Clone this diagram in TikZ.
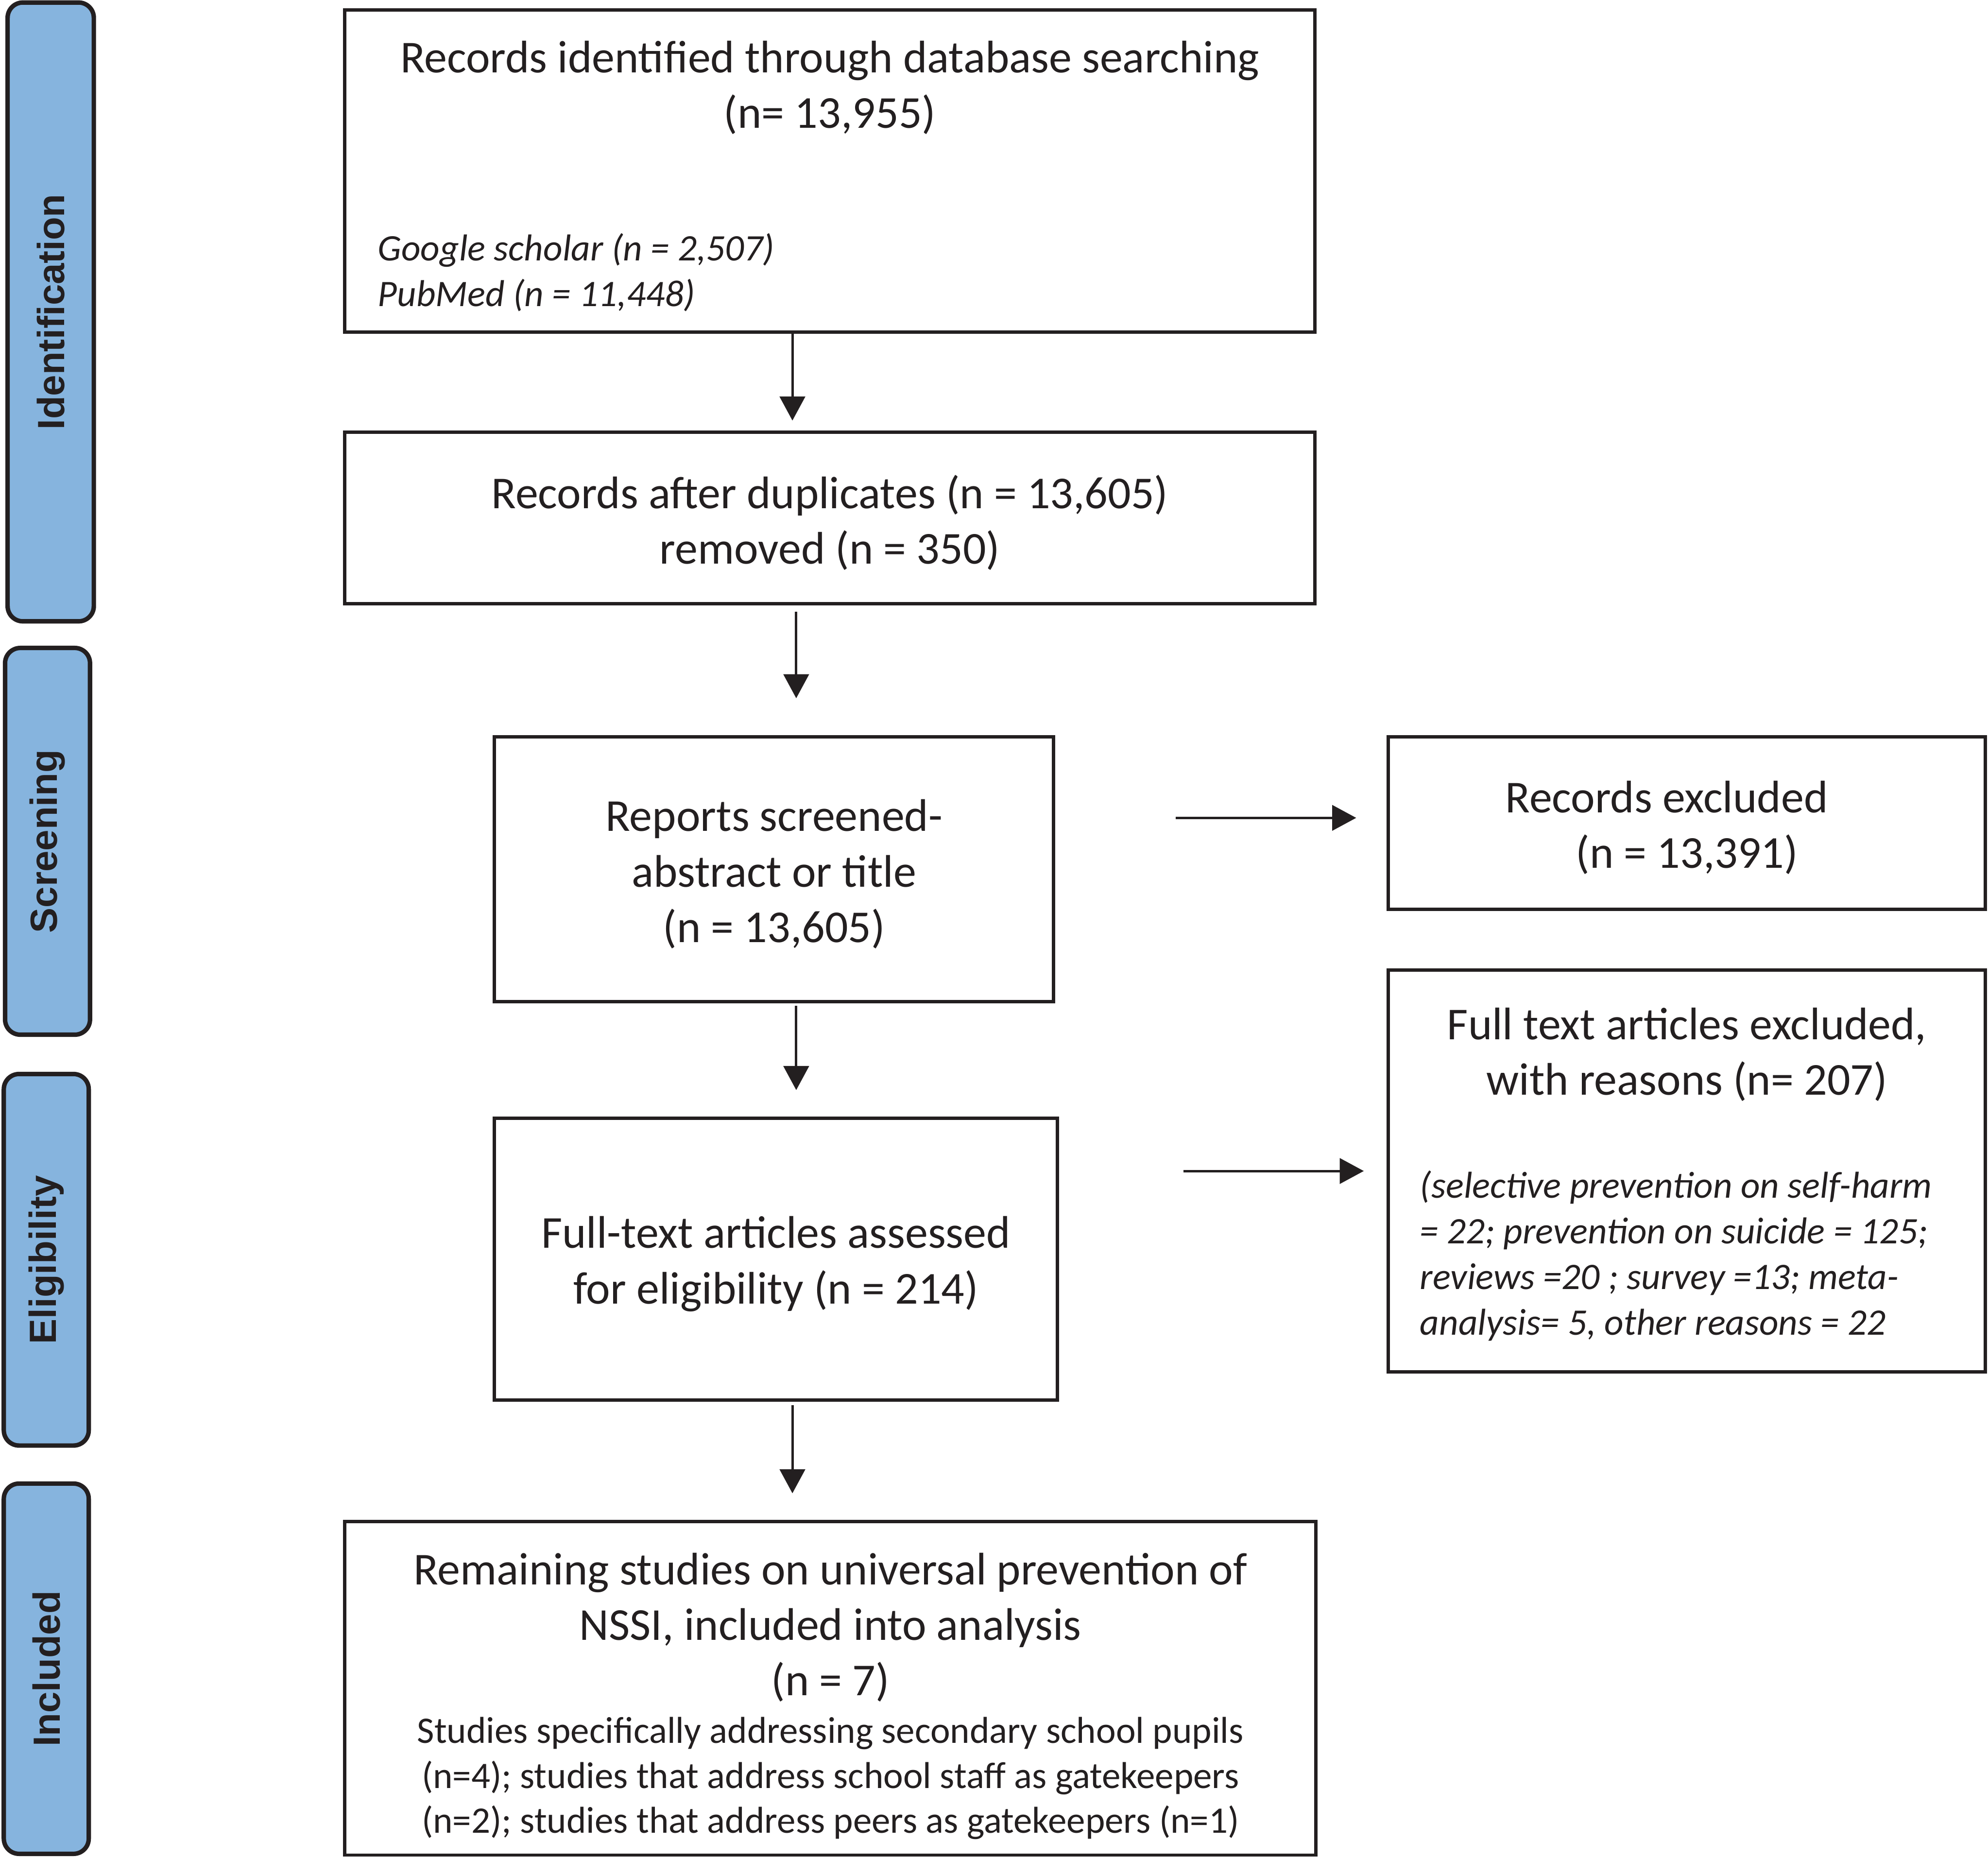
\documentclass[tikz,border=0pt]{standalone}
\usepackage{fontspec}
\setmainfont{Carlito}
\newfontfamily\sidefont{Liberation Sans}
\usetikzlibrary{arrows.meta}
\definecolor{barblue}{RGB}{134,180,222}
\definecolor{ink}{RGB}{35,31,32}
\newcommand\lift[1]{\vrule height\dimexpr\fontcharht\font`(+#1\relax depth0pt width0pt}

\begin{document}
\begin{tikzpicture}[>={Triangle[length=0.38cm,width=0.40cm]},line join=miter,
	box/.style={draw=ink,text=ink,line width=1.5pt,rectangle,inner sep=0pt,align=center,font=\fontsize{20.5}{24.9}\selectfont},
	txt/.style={text=ink,inner sep=0pt},
	head/.style={txt,align=center,font=\fontsize{20.5}{24.9}\selectfont},
	note/.style={txt,align=left,font=\itshape\fontsize{16.8}{20.5}\selectfont},
	detail/.style={txt,align=center,font=\fontsize{16.8}{20.2}\selectfont},
	phase/.style={draw=ink,text=ink,line width=2pt,fill=barblue,rounded corners=0.24cm,inner sep=0pt,rotate=90,
		font=\sidefont\bfseries\fontsize{17}{20}\selectfont},
	flow/.style={->,draw=ink,line width=1.1pt}]
	\useasboundingbox (0,0) rectangle (31.36,-29.30);

	\node[phase,minimum width=9.76cm,minimum height=1.36cm] (idph) at (0.80,-4.92) {Identification};
	\node[phase,minimum width=6.10cm,minimum height=1.34cm] (scph) at (0.75,-13.27) {Screening};
	\node[phase,minimum width=5.86cm,minimum height=1.34cm] (elph) at (0.73,-19.87) {Eligibility};
	\node[phase,minimum width=5.84cm,minimum height=1.34cm] (inph) at (0.73,-26.32) {Included};

	\node[box,minimum width=15.30cm,minimum height=5.08cm] (search) at (13.09,-2.70) {};
	\node[head] (searchhead) at ([yshift=-1.25cm]search.north)
	{Records identified through database searching\\(n= 13,955)};
	\node[note,anchor=west] (searchsrc) at ([xshift=0.54cm,yshift=-1.60cm]search.west)
	{Google scholar (n = 2,507)\\PubMed (n = 11,448)};

	\node[box,minimum width=15.30cm,minimum height=2.70cm] (dedup) at (13.09,-8.17)
	{\lift{4.2pt}Records after duplicates (n = 13,605)\\removed (n = 350)};
	\node[box,minimum width=8.82cm,minimum height=4.18cm] (screen) at (12.21,-13.71)
	{\lift{3.6pt}Reports screened-\\abstract or title\\(n = 13,605)};
	\node[box,minimum width=9.42cm,minimum height=2.72cm] (excl) at (26.61,-12.98)
	{\lift{3.4pt}Records excluded\rule{0.64cm}{0pt}\\(n = 13,391)};
	\node[box,minimum width=8.88cm,minimum height=4.44cm] (elig) at (12.24,-19.86)
	{\lift{3.6pt}Full-text articles assessed\\for eligibility (n = 214)};

	\node[box,minimum width=9.42cm,minimum height=6.34cm] (fullex) at (26.61,-18.47) {};
	\node[head] (fullexhead) at ([yshift=1.84cm]fullex.center)
	{Full text articles excluded,\\with reasons (n= 207)};
	\node[note,anchor=west] (fullexwhy) at ([xshift=0.52cm,yshift=-1.34cm]fullex.west)
	{(selective prevention on self-harm\\= 22; prevention on suicide = 125;\\reviews =20 ; survey =13; meta-\\analysis= 5, other reasons = 22};

	\node[box,minimum width=15.32cm,minimum height=5.26cm] (incl) at (13.10,-26.63) {};
	\node[head] (inclhead) at ([yshift=0.96cm]incl.center)
	{Remaining studies on universal prevention of\\NSSI, included into analysis\\(n = 7)};
	\node[detail] (incldetail) at ([yshift=-1.42cm]incl.center)
	{Studies specifically addressing secondary school pupils\\(n=4); studies that address school staff as gatekeepers\\(n=2); studies that address peers as gatekeepers (n=1)};

	\draw[flow,shorten >=0.16cm] ([xshift=-0.59cm]search.south) -- ([xshift=-0.59cm]search.south |- dedup.north);
	\draw[flow,shorten <=0.10cm,shorten >=0.58cm] ([xshift=-0.53cm]dedup.south) -- ([xshift=-0.53cm]dedup.south |- screen.north);
	\draw[flow,shorten <=0.04cm,shorten >=0.42cm] ([xshift=0.35cm]screen.south) -- ([xshift=0.35cm]screen.south |- elig.north);
	\draw[flow,shorten <=0.06cm,shorten >=0.42cm] ([xshift=0.26cm]elig.south) -- ([xshift=0.26cm]elig.south |- incl.north);
	\draw[flow,shorten <=1.90cm,shorten >=0.48cm] (screen.east |- excl.west) ++(0,0.08) -- ([yshift=0.08cm]excl.west);
	\draw[flow,shorten <=1.96cm,shorten >=0.36cm] (elig.east |- fullex.west) -- (fullex.west);

\end{tikzpicture}
\end{document}
